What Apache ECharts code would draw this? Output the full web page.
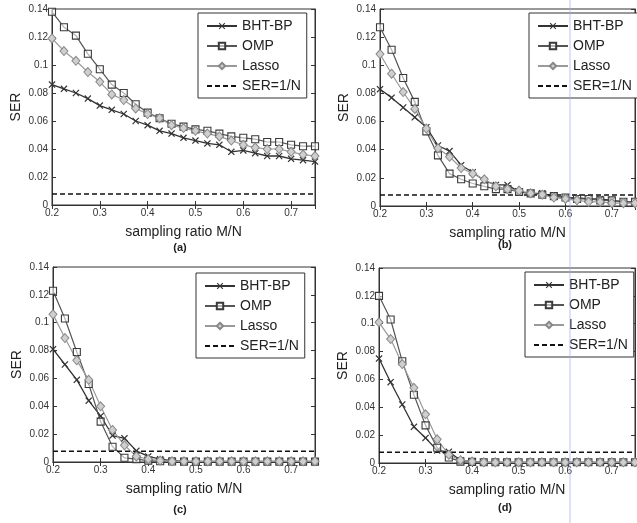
<!DOCTYPE html>
<html>
<head>
<meta charset="utf-8">
<script src="https://cdn.jsdelivr.net/npm/echarts@6/dist/echarts.min.js"></script>
<style>html,body{margin:0;padding:0;background:#fff}#c{width:637px;height:523px}</style>
</head>
<body>
<div id="c"></div>
<script>
// ---- data ----
const ratios = [0.2,0.225,0.25,0.275,0.3,0.325,0.35,0.375,0.4,0.425,0.45,0.475,0.5,0.525,0.55,0.575,0.6,0.625,0.65,0.675,0.7,0.725,0.75];
const xTicks = ['0.2','0.3','0.4','0.5','0.6','0.7'];
const yTicks = ['0','0.02','0.04','0.06','0.08','0.1','0.12','0.14'];
const serLevel = 0.0078;
const panelLabels = ['(a)','(b)','(c)','(d)'];
const seriesNames = ['BHT-BP','OMP','Lasso','SER=1/N'];

const a_bht   = [0.086,0.083,0.080,0.076,0.071,0.068,0.065,0.060,0.057,0.053,0.051,0.048,0.046,0.044,0.043,0.038,0.039,0.037,0.035,0.035,0.033,0.032,0.031];
const a_omp   = [0.138,0.127,0.121,0.108,0.097,0.086,0.080,0.072,0.066,0.062,0.058,0.056,0.054,0.053,0.051,0.049,0.048,0.047,0.045,0.045,0.043,0.042,0.042];
const a_lasso = [0.119,0.110,0.103,0.095,0.088,0.079,0.075,0.069,0.065,0.062,0.057,0.055,0.053,0.051,0.049,0.046,0.043,0.041,0.040,0.040,0.038,0.036,0.035];

const b_bht   = [0.083,0.077,0.070,0.063,0.056,0.043,0.039,0.029,0.024,0.018,0.015,0.015,0.010,0.009,0.009,0.007,0.006,0.006,0.005,0.005,0.004,0.003,0.003];
const b_omp   = [0.127,0.111,0.091,0.074,0.053,0.036,0.023,0.019,0.016,0.014,0.012,0.012,0.010,0.009,0.008,0.007,0.006,0.005,0.005,0.004,0.004,0.003,0.003];
const b_lasso = [0.108,0.094,0.081,0.069,0.055,0.041,0.035,0.027,0.023,0.019,0.014,0.012,0.011,0.009,0.008,0.006,0.005,0.004,0.003,0.003,0.002,0.002,0.002];

const c_bht   = [0.081,0.070,0.059,0.044,0.033,0.019,0.017,0.008,0.004,0.002,0.001,0.0005,0.0005,0.0005,0.0005,0.0005,0.0005,0.0005,0.0005,0.0005,0.0005,0.0005,0.0005];
const c_omp   = [0.123,0.103,0.079,0.056,0.029,0.011,0.003,0.002,0.001,0.0005,0.0004,0.0003,0.0003,0.0003,0.0003,0.0003,0.0003,0.0003,0.0003,0.0003,0.0003,0.0003,0.0003];
const c_lasso = [0.106,0.089,0.073,0.059,0.040,0.023,0.012,0.004,0.002,0.001,0.0005,0.0005,0.0005,0.0005,0.0005,0.0005,0.0005,0.0005,0.0005,0.0005,0.0005,0.0005,0.0005];

const d_bht   = [0.075,0.058,0.042,0.026,0.018,0.009,0.008,0.002,0.001,0.0005,0.0005,0.0005,0.0005,0.0005,0.0005,0.0005,0.0005,0.0005,0.0005,0.0005,0.0005,0.0005,0.0005];
const d_omp   = [0.120,0.103,0.073,0.049,0.027,0.011,0.004,0.001,0.0008,0.0005,0.0005,0.0005,0.0005,0.0005,0.0005,0.0005,0.0005,0.0005,0.0005,0.0005,0.0005,0.0005,0.0005];
const d_lasso = [0.101,0.089,0.071,0.054,0.035,0.017,0.006,0.002,0.001,0.0005,0.0005,0.0005,0.0005,0.0005,0.0005,0.0005,0.0005,0.0005,0.0005,0.0005,0.0005,0.0005,0.0005];

const panels = [
  {bht:a_bht, omp:a_omp, lasso:a_lasso},
  {bht:b_bht, omp:b_omp, lasso:b_lasso},
  {bht:c_bht, omp:c_omp, lasso:c_lasso},
  {bht:d_bht, omp:d_omp, lasso:d_lasso}
];

// ---- layout / style ----
const FONT = 'Liberation Sans, Arial, sans-serif';
const grids = [
  {left:52, top:9, width:263, height:196},
  {left:380, top:9, width:255, height:197},
  {left:53, top:267, width:262, height:195},
  {left:379, top:268, width:256, height:195}
];
const legendPos = [
  {left:198, top:13},
  {left:529, top:13},
  {left:196, top:273},
  {left:525, top:272}
];
const captionPos = [[180,248],[505,245],[180,510],[505,508]];

const xPath = 'path://M0,1.2L1.2,0L5,3.8L8.8,0L10,1.2L6.2,5L10,8.8L8.8,10L5,6.2L1.2,10L0,8.8L3.8,5Z';

const xMin = parseFloat(xTicks[0]), xMax = ratios[ratios.length-1];
const yMax = parseFloat(yTicks[yTicks.length-1]);

const option = {
  animation:false,
  backgroundColor:'#fff',
  textStyle:{fontFamily:FONT},
  grid:[], xAxis:[], yAxis:[], series:[], legend:[], graphic:[]
};

const axisColor = '#333';
grids.forEach((g,i)=>{
  option.grid.push(Object.assign({show:true, borderColor:axisColor, borderWidth:1, backgroundColor:'#fff', containLabel:false}, g));
  const xBase = {type:'value', gridIndex:i, min:xMin, max:xMax, interval:0.1,
    splitLine:{show:false}, axisLine:{lineStyle:{color:axisColor}},
    axisTick:{inside:true, length:4, lineStyle:{color:axisColor}}};
  option.xAxis.push(Object.assign({}, xBase, {position:'bottom',
    name:'sampling ratio M/N', nameLocation:'middle', nameGap:20,
    nameTextStyle:{fontSize:14, color:'#222', fontFamily:FONT},
    axisLabel:{fontSize:10, color:'#333', margin:3, showMaxLabel:false, fontFamily:FONT,
      formatter:(v)=>{const s=String(+v.toFixed(2)); return xTicks.indexOf(s)>=0?s:'';}}}));
  option.xAxis.push(Object.assign({}, xBase, {position:'top', axisLabel:{show:false}}));
  const yBase = {type:'value', gridIndex:i, min:0, max:yMax, interval:0.02,
    splitLine:{show:false}, axisLine:{lineStyle:{color:axisColor}},
    axisTick:{inside:true, length:4, lineStyle:{color:axisColor}}};
  option.yAxis.push(Object.assign({}, yBase, {position:'left',
    name:'SER', nameLocation:'middle', nameGap:29, nameRotate:90,
    nameTextStyle:{fontSize:14, color:'#222', fontFamily:FONT},
    axisLabel:{fontSize:10, color:'#333', margin:4, fontFamily:FONT,
      formatter:(v)=>String(+v.toFixed(2))}}));
  option.yAxis.push(Object.assign({}, yBase, {position:'right', axisLabel:{show:false}}));

  const p = panels[i];
  const xi = 2*i, yi = 2*i;
  const mk = (arr)=>ratios.map((r,k)=>[r, arr[k]]);
  option.series.push({
    name:seriesNames[0], type:'line', xAxisIndex:xi, yAxisIndex:yi, data:mk(p.bht),
    symbol:xPath, symbolSize:7, silent:true,
    lineStyle:{color:'#333', width:1.3},
    itemStyle:{color:'#333'}
  });
  option.series.push({
    name:seriesNames[1], type:'line', xAxisIndex:xi, yAxisIndex:yi, data:mk(p.omp),
    symbol:'rect', symbolSize:7, silent:true,
    lineStyle:{color:'#555', width:1.2},
    itemStyle:{color:'rgba(255,255,255,0.55)', borderColor:'#3a3a3a', borderWidth:1.1}
  });
  option.series.push({
    name:seriesNames[2], type:'line', xAxisIndex:xi, yAxisIndex:yi, data:mk(p.lasso),
    symbol:'diamond', symbolSize:[8,9], silent:true,
    lineStyle:{color:'#9a9a9a', width:1.2},
    itemStyle:{color:'#cfcfcf', borderColor:'#888', borderWidth:1}
  });
  option.series.push({
    name:seriesNames[3], type:'line', xAxisIndex:xi, yAxisIndex:yi,
    data:[[xMin, serLevel],[xMax, serLevel]],
    symbol:'none', silent:true,
    lineStyle:{color:'#111', width:1.5, type:[5,3]},
    itemStyle:{color:'rgba(0,0,0,0)', borderColor:'rgba(0,0,0,0)'}
  });

  option.legend.push({
    data:seriesNames, orient:'vertical', left:legendPos[i].left, top:legendPos[i].top,
    backgroundColor:'#fff', borderColor:'#333', borderWidth:1,
    padding:[6,6,5,8], itemGap:6, itemWidth:30, itemHeight:8,
    selectedMode:false,
    textStyle:{fontSize:14, color:'#222', fontFamily:FONT, lineHeight:14}
  });

  option.graphic.push({type:'text', x:captionPos[i][0], y:captionPos[i][1], z:50,
    style:{text:panelLabels[i], align:'center', verticalAlign:'middle',
      font:'bold 11px ' + FONT, fill:'#222'}});
});

// faint scanner streak seen in the reference
option.graphic.push({type:'rect', shape:{x:569, y:0, width:2, height:523}, z:100, silent:true,
  style:{fill:'rgba(160,175,220,0.35)'}});

const chart = echarts.init(document.getElementById('c'), null, {renderer:'canvas'});
chart.setOption(option);
</script>
</body>
</html>
